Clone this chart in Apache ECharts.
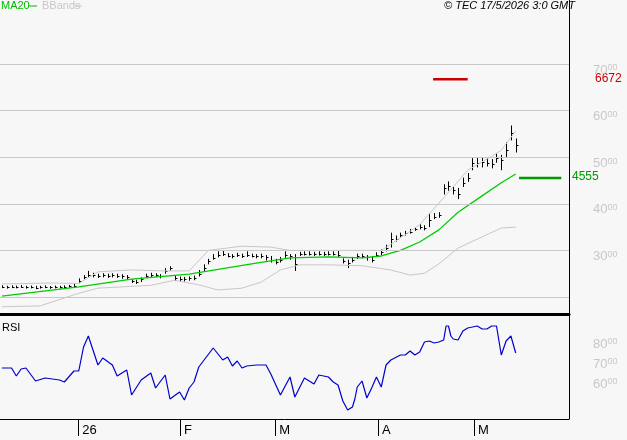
<!DOCTYPE html>
<html><head><meta charset="utf-8">
<script src="https://cdn.jsdelivr.net/npm/echarts@6/dist/echarts.min.js"></script>
<style>html,body{margin:0;padding:0;background:#f7f7f7}#c{width:627px;height:440px}</style>
</head><body><div id="c"></div>
<script>
const closes=[2220,2210,2220,2215,2225,2210,2215,2200,2210,2220,2205,2215,2210,2220,2230,2240,
2350,2430,
2480,2470,2460,2470,2460,2470,2460,2450,2430,
2340,2320,2380,
2460,2480,2480,2450,
2560,2620,
2400,2390,2380,2400,2410,
2500,2620,2780,2840,
2900,2930,2890,2870,2900,2880,2910,2890,2870,2880,2850,2800,
2760,2800,
2900,2870,2700,
2920,2930,2930,2920,2930,2920,2930,2930,2900,2780,2720,
2800,2870,2880,2850,2800,
2900,2960,3050,
3240,3240,3330,3370,
3400,3460,3500,3480,3650,
3720,3760,4340,4380,4290,4220,4450,4560,4870,4880,4900,4880,4850,4980,4930,5150,5520,5260];
const highs=[2250,2240,2250,2245,2255,2240,2245,2240,2240,2250,2235,2245,2240,2250,2260,2280,
2400,2470,
2560,2520,2500,2510,2500,2510,2500,2490,2470,
2380,2370,2420,
2500,2520,2510,2490,
2620,2660,
2460,2440,2430,2440,2460,
2580,2700,2820,2920,
2980,3000,2940,2920,2950,2930,2980,2930,2920,2930,2900,2880,
2820,2860,
2980,2920,2920,
2970,2980,2980,2970,2980,2970,2980,2980,3000,2830,2800,
2860,2930,2930,2900,2880,
2960,3020,3120,
3380,3320,3380,3420,
3460,3500,3560,3540,3800,
3800,3820,4420,4480,4380,4340,4560,4660,4980,4980,5000,4990,4960,5080,5050,5320,5680,5400];
const lows=[2190,2180,2190,2185,2195,2180,2185,2170,2180,2190,2175,2185,2180,2190,2200,2210,
2300,2380,
2430,2420,2410,2420,2410,2420,2410,2390,2370,
2300,2280,2320,
2410,2430,2430,2400,
2500,2560,
2340,2330,2330,2350,2360,
2440,2540,2700,2800,
2850,2880,2850,2830,2860,2840,2860,2850,2830,2830,2780,2740,
2700,2740,
2840,2800,2560,
2880,2890,2890,2880,2890,2880,2890,2890,2860,2720,2620,
2740,2820,2830,2780,2740,
2860,2900,2980,
3060,3190,3280,3320,
3360,3420,3450,3430,3500,
3670,3700,4200,4280,4200,4100,4360,4470,4720,4780,4780,4800,4760,4880,4720,4990,5360,5100];
// [barIndex, value] samples
const ma20=[[0,2020],[16,2215],[27,2385],[39,2490],[52,2710],[60,2840],[68,2860],[75,2840],[79,2880],[83,3000],[87,3180],[91,3440],[95,3820],[100,4170],[104,4450],[107,4640]];
const bbUpper=[[0,2280],[10,2300],[16,2290],[20,2540],[27,2580],[34,2560],[39,2560],[43,3000],[50,3090],[56,3070],[60,3000],[70,3000],[79,3000],[81,3130],[87,3550],[92,4130],[97,4720],[102,5020],[104,5150],[107,5560]];
const bbLower=[[0,1790],[8,1810],[16,2080],[20,2190],[31,2250],[36,2360],[41,2260],[45,2150],[50,2190],[54,2320],[58,2580],[62,2690],[68,2690],[75,2670],[81,2580],[85,2470],[88,2510],[91,2710],[95,3050],[100,3290],[104,3480],[107,3500]];
const rsi=[[0,67],[2,67],[3,63],[4,66.5],[5,67],[7,60.5],[9,62],[12,61],[13,60],[15,65.5],[16,65.5],[17,77.5],[18,83],[20,68.5],[21,72],[23,68.5],[24,63],[26,66],[27,53.5],[29,61],[31,64.5],[32,57],[34,63.5],[35,51.5],[37,55],[38,51],[39,57],[40,60],[41,67.5],[44,77],[46,71],[47,72.5],[48,68],[49,70.5],[50,67],[51,68],[53,68.5],[55,68.5],[56,64],[58,53.5],[60,62.5],[61,52.5],[63,62],[65,59],[66,63.5],[68,62.5],[69,60],[70,58.5],[71,50.5],[72,46],[73,47.5],[73.5,51.5],[74,57.5],[75,60.5],[76,52],[77,57],[78,62.5],[79,57.5],[80,68.5],[81,71],[83,73.5],[84,73.5],[85,75.5],[86,73.5],[87,75],[88,80],[89,80.5],[90,79.5],[91,80],[92,81],[92.5,88],[93,88],[93.5,83],[94,81.5],[95,81],[96,85.5],[97,87],[99,88],[100,86.5],[101,86.5],[102,88],[103,88],[104,73.5],[105,80.5],[106,83],[107,74.5]];
const targetRed=6672, targetGreen=4555;
const priceTicks=[3000,4000,5000,6000,7000];
const priceGrid=[2000,3000,4000,5000,6000,7000];
const rsiTicks=[60,70,80];
const monthLabels=['26','F','M','A','M'];
const monthIdx=[15.9,37.1,56.9,78.3,98.3];

const chart=echarts.init(document.getElementById('c'));
const X0=-0.4,X1=118.1;
const priceFmt=v=>'{a|'+String(v).slice(0,-2)+'}{b|'+String(v).slice(-2)+'}';
const rsiFmt=v=>'{a|'+v+'}{b|00}';
const rich={a:{color:'#c8c8c8',fontSize:13,fontFamily:'Liberation Sans'},b:{color:'#c8c8c8',fontSize:9,verticalAlign:'top',padding:[0,0,4,0],fontFamily:'Liberation Sans'}};
const ohlc=closes.map((c,i)=>[i,lows[i],highs[i],c]);
chart.setOption({
 animation:false,backgroundColor:'#f7f7f7',
 grid:[{left:0,top:0,width:569,height:314},{left:0,top:316,width:569,height:103}],
 xAxis:[
  {type:'value',gridIndex:0,min:X0,max:X1,axisLine:{show:true,lineStyle:{color:'#000',width:3}},axisTick:{show:false},axisLabel:{show:false},splitLine:{show:false}},
  {type:'value',gridIndex:1,min:X0,max:X1,axisLine:{show:true,lineStyle:{color:'#000',width:1}},
   axisTick:{show:true,customValues:monthIdx,length:17,inside:false,lineStyle:{color:'#000'}},
   axisLabel:{customValues:monthIdx,formatter:v=>monthLabels[monthIdx.indexOf(v)],color:'#000',fontSize:13,fontFamily:'Liberation Sans',align:'left',margin:5,padding:[0,0,0,4]},splitLine:{show:false}}
 ],
 yAxis:[
  {type:'value',gridIndex:0,position:'right',min:1635,max:8373,axisLine:{show:true,onZero:false,lineStyle:{color:'#000'}},axisTick:{show:false},splitLine:{show:false},
   axisLabel:{customValues:priceTicks,formatter:priceFmt,rich,margin:24,padding:[12,0,0,0]}},
  {type:'value',gridIndex:1,position:'right',min:41.5,max:93,axisLine:{show:true,onZero:false,lineStyle:{color:'#000'}},axisTick:{show:false},splitLine:{show:false},
   axisLabel:{customValues:rsiTicks,formatter:rsiFmt,rich,margin:24,padding:[4,0,0,0]}}
 ],
 series:[
  {type:'line',data:[[X0,0]],showSymbol:false,lineStyle:{opacity:0},silent:true,
   markLine:{silent:true,symbol:'none',label:{show:false},lineStyle:{color:'#c8c8c8',type:'solid',width:1},data:priceGrid.map(v=>({yAxis:v}))}},
  {type:'line',data:bbUpper,showSymbol:false,lineStyle:{color:'#c8c8c8',width:1}},
  {type:'line',data:bbLower,showSymbol:false,lineStyle:{color:'#c8c8c8',width:1}},
  {type:'line',data:ma20,showSymbol:false,lineStyle:{color:'#00cc00',width:1.3}},
  {type:'custom',data:ohlc,encode:{x:0,y:[1,2,3]},renderItem:(p,api)=>{
    const i=api.value(0);const lo=api.coord([i,api.value(1)]);const hi=api.coord([i,api.value(2)]);const cl=api.coord([i,api.value(3)]);
    const x=Math.round(lo[0])+0.5;
    return {type:'group',children:[
     {type:'line',shape:{x1:x,y1:hi[1],x2:x,y2:lo[1]},style:{stroke:'#000',lineWidth:1}},
     {type:'line',shape:{x1:x,y1:Math.round(cl[1])+0.5,x2:x+2,y2:Math.round(cl[1])+0.5},style:{stroke:'#000',lineWidth:1}}]};}},
  {type:'line',data:[[89.8,targetRed],[97,targetRed]],showSymbol:false,lineStyle:{color:'#cc0000',width:2.5}},
  {type:'line',data:[[107.7,targetGreen],[116.5,targetGreen]],showSymbol:false,lineStyle:{color:'#009900',width:2.5}},
  {type:'line',xAxisIndex:1,yAxisIndex:1,data:rsi,showSymbol:false,lineStyle:{color:'#0000cc',width:1.2}}
 ]
});
const yR=chart.convertToPixel({xAxisIndex:0,yAxisIndex:0},[0,targetRed])[1];
const yG=chart.convertToPixel({xAxisIndex:0,yAxisIndex:0},[0,targetGreen])[1];
chart.setOption({graphic:[
 {type:'text',left:1,top:0,style:{text:'MA20',fill:'#00bb00',font:'11px Liberation Sans'}},
 {type:'line',shape:{x1:29,y1:6,x2:37,y2:6},style:{stroke:'#00bb00',lineWidth:1}},
 {type:'text',left:42,top:0,style:{text:'BBands',fill:'#c8c8c8',font:'11px Liberation Sans'}},
 {type:'line',shape:{x1:75,y1:6,x2:82,y2:6},style:{stroke:'#c8c8c8',lineWidth:1}},
 {type:'text',right:52,top:0,style:{text:'© TEC 17/5/2026 3:0 GMT',fill:'#000',font:'italic 11px Liberation Sans'}},
 {type:'text',left:2,top:322,style:{text:'RSI',fill:'#000',font:'11px Liberation Sans'}},
 {type:'text',left:595,top:yR-7,style:{text:String(targetRed),fill:'#cc0000',font:'12px Liberation Sans'}},
 {type:'text',left:572,top:yG-7,style:{text:String(targetGreen),fill:'#009900',font:'12px Liberation Sans'}}
]});
</script></body></html>
